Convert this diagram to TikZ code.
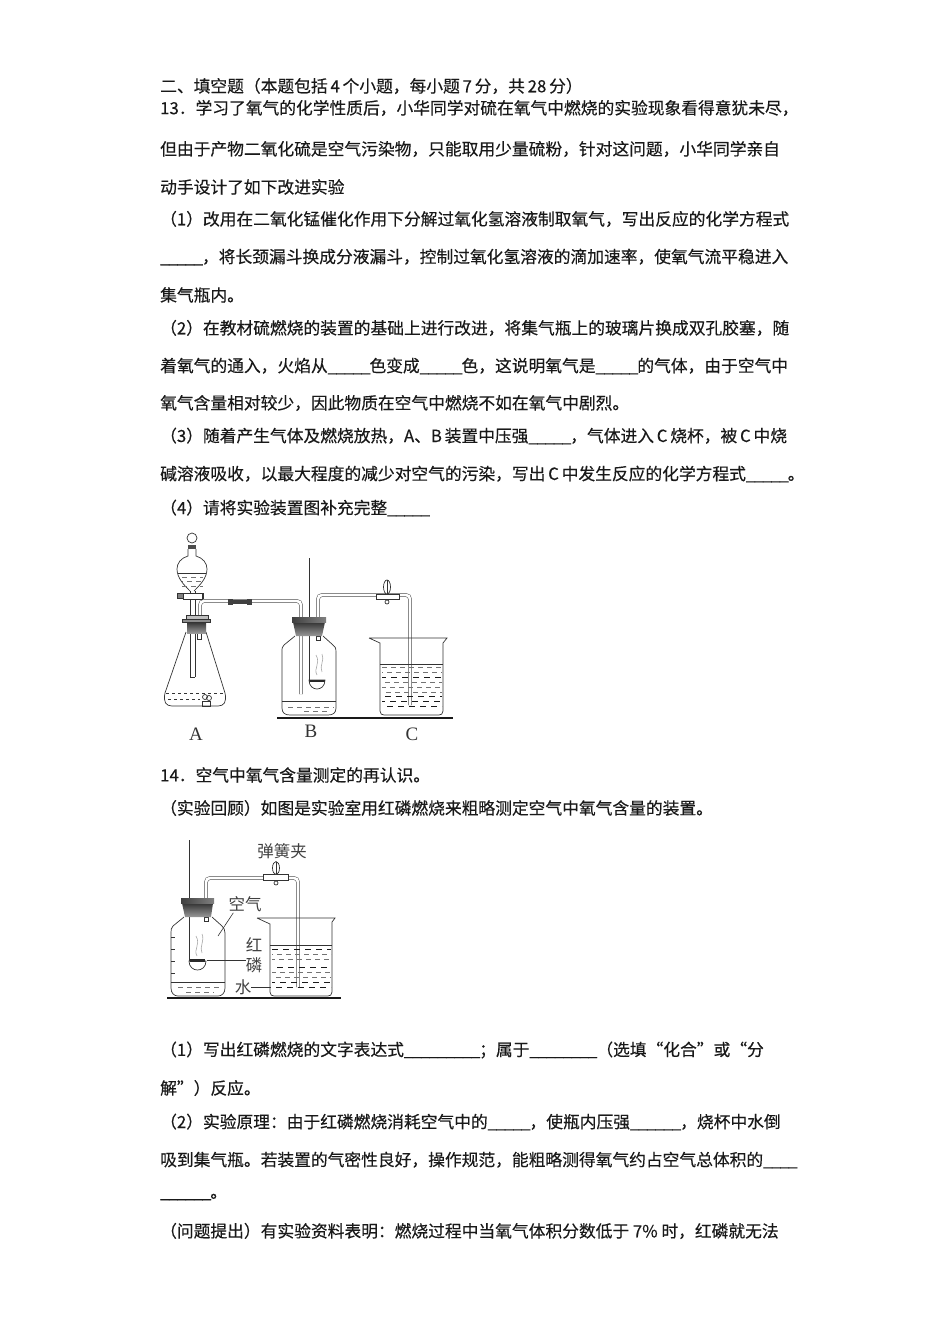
\documentclass[tikz,border=0pt]{standalone}
\usepackage{fontspec}
\newfontfamily\cjk{Noto Sans CJK SC}[FakeBold=0.35]
\newfontfamily\latinlabel{Liberation Serif}
\newcommand\us{\_\kern-0.06em\relax}
\tikzset{
  textline/.style={anchor=west, inner sep=0pt, font=\cjk\fontsize{16.75}{18}\selectfont, text=black!90},
  glass/.style={draw=black!80, line width=0.7pt},
  tube/.style={draw=black!70, line width=0.5pt, double=white, double distance=2.6pt, rounded corners=4pt},
  rubber/.style={fill=black!75, draw=black!75},
  level/.style={draw=black!80, line width=0.8pt},
  waterdash/.style={draw=black!55, line width=0.6pt, dash pattern=on 5pt off 4pt},
  waterdark/.style={draw=black!90, line width=0.9pt, dash pattern=on 6pt off 5pt},
  smoke/.style={draw=black!35, line width=0.6pt},
  labelfont/.style={font=\fontspec{Noto Sans CJK SC}\fontsize{16.5}{17}\selectfont, text=black!75, inner sep=0pt},
  letter/.style={font=\latinlabel\fontsize{19}{20}\selectfont, text=black!80, inner sep=0pt},
  pointer/.style={draw=black!80, line width=0.6pt},
  bench/.style={draw=black!90, line width=2.4pt},
  plugbody/.style={top color=black!80, bottom color=black!40}
}
\begin{document}
\begin{tikzpicture}[x=1pt,y=-1pt]
    \useasboundingbox (0,0) rectangle (950,1344);

    % Text lines above and below the pictures
    \foreach \y/\txt in {
        86/{二、填空题（本题包括\,4\,个小题，每小题\,7\,分，共\,28\,分）},
        108/{13．学习了氧气的化学性质后，小华同学对硫在氧气中燃烧的实验现象看得意犹未尽，},
        149/{但由于产物二氧化硫是空气污染物，只能取用少量硫粉，针对这问题，小华同学亲自},
        187/{动手设计了如下改进实验},
        219/{（1）改用在二氧化锰催化作用下分解过氧化氢溶液制取氧气，写出反应的化学方程式},
        257/{\us\us\us\us\us{}，将长颈漏斗换成分液漏斗，控制过氧化氢溶液的滴加速率，使氧气流平稳进入},
        295/{集气瓶内。},
        328/{（2）在教材硫燃烧的装置的基础上进行改进，将集气瓶上的玻璃片换成双孔胶塞，随},
        366/{着氧气的通入，火焰从\us\us\us\us\us{}色变成\us\us\us\us\us{}色，这说明氧气是\us\us\us\us\us{}的气体，由于空气中},
        403/{氧气含量相对较少，因此物质在空气中燃烧不如在氧气中剧烈。},
        436/{（3）随着产生气体及燃烧放热，A、B\,装置中压强\us\us\us\us\us{}，气体进入\,C\,烧杯，被\,C\,中烧},
        474/{碱溶液吸收，以最大程度的减少对空气的污染，写出\,C\,中发生反应的化学方程式\us\us\us\us\us{}。},
        508/{（4）请将实验装置图补充完整\us\us\us\us\us{}},
        775/{14．空气中氧气含量测定的再认识。},
        808/{（实验回顾）如图是实验室用红磷燃烧来粗略测定空气中氧气含量的装置。},
        1050/{（1）写出红磷燃烧的文字表达式\us\us\us\us\us\us\us\us\us{}；属于\us\us\us\us\us\us\us\us{}（选填“化合”或“分},
        1088/{解”）反应。},
        1122/{（2）实验原理：由于红磷燃烧消耗空气中的\us\us\us\us\us{}，使瓶内压强\us\us\us\us\us\us{}，烧杯中水倒},
        1160/{吸到集气瓶。若装置的气密性良好，操作规范，能粗略测得氧气约占空气总体积的\us\us\us\us{}},
        1197/{\us\us\us\us\us\us{}。},
        1231/{（问题提出）有实验资料表明：燃烧过程中当氧气体积分数低于 7\% 时，红磷就无法}
    } {
        \node[textline] (line\y) at (160,\y) {\txt};
    }

    % Flask A
    \draw[glass] (186,632) -- (165,693) .. controls (163,702) and (166,706) .. (172,706)
        -- (218,706) .. controls (224,706) and (227,702) .. (225,693) -- (206,632);
    \draw[level, dashed] (166,693) -- (224,693);
    \draw[level, dashed] (168,699) -- (200,699);
    \draw[glass] (202,701) rectangle (210,706);
    \draw[glass] (205,697) circle (2.5pt) (209,698) circle (2.5pt);

    % Funnel on flask A
    \draw[glass] (192,538) circle (5pt);
    \fill[black!70] (188,545) rectangle (196,549);
    \draw[glass] (188,549) -- (188,556) .. controls (181,558) and (177,563) .. (177,569)
        .. controls (177,578) and (184,585) .. (190,591);
    \draw[glass] (196,549) -- (196,556) .. controls (203,558) and (207,563) .. (207,569)
        .. controls (207,578) and (200,585) .. (194,591);
    \draw[level] (178,573) -- (206,573);
    \foreach \y/\ph in {577/0pt,581/4pt,586/0pt} {
        \draw[waterdash, dash phase=\ph] (182,\y) -- (203,\y);
    }
    \draw[glass] (190,591) -- (190,677) (195,591) -- (195,677);
    \draw[glass, line width=1pt] (190,677) -- (195,677);
    \draw[glass, fill=white] (183,593) rectangle (202,599);
    \draw[glass, fill=black!50] (177,593) rectangle (183,598);
    \fill[black!80] (202,593) rectangle (204,599);

    % Delivery tube A to B with rubber joint
    \draw[tube] (200,625) -- (200,601) -- (301,601) -- (301,694);
    \draw[rubber] (228,599) rectangle (232,604) (232,600) rectangle (247,603) (247,599) rectangle (251,604);

    % Stopper of flask A
    \draw[glass, fill=white] (197,633) rectangle (201,639);
    \shade[plugbody] (187,622) -- (206,622) -- (206,633) -- (187,633) -- cycle;
    \draw[glass, fill=black!45] (182,619) rectangle (210,622);
    \draw[glass, fill=black!25] (186,615) rectangle (208,619);

    % Bottle B
    \draw[glass] (295,636) -- (284,645) .. controls (282,647) and (282,648) .. (282,652)
        -- (282,708) .. controls (282,713) and (285,715) .. (290,715) -- (328,715)
        .. controls (333,715) and (336,713) .. (336,708) -- (336,652)
        .. controls (336,648) and (335,646) .. (333,645) -- (323,636);
    \draw[glass] (309,558) -- (309,680);
    \draw[tube] (318,625) -- (318,595) -- (410,595) -- (410,705);
    \draw[glass, fill=white] (316,636) rectangle (320,640);
    \shade[plugbody] (293,622) -- (325,622) -- (322,636) -- (296,636) -- cycle;
    \shade[left color=black!75, right color=black!50] (292,617) rectangle (326,622);
    \draw[level] (282,701) -- (336,701);
    \draw[waterdash] (288,707) -- (334,707);
    \draw[waterdash] (304,711) -- (328,711);

    % Spoon and smoke in B
    \fill[black!85] (309,680) rectangle (325,682);
    \draw[glass] (309,680) .. controls (309,692) and (325,692) .. (325,680) -- cycle;
    \draw[smoke] (317,675) .. controls (313,668) and (321,664) .. (316,655);
    \draw[smoke] (322,672) .. controls (319,666) and (325,660) .. (322,654);

    % Clamp on tube B to C
    \draw[glass, fill=white] (376,594) rectangle (399,599);
    \draw[glass, fill=white] (387,587) ellipse (3.5pt and 7pt);
    \draw[glass] (387,580) -- (387,594);
    \draw[glass, fill=white] (387,602) circle (2pt);

    % Beaker C
    \draw[glass] (369,638) -- (447,638) -- (443,643) -- (443,711) .. controls (443,714) and (441,715) .. (439,715)
        -- (384,715) .. controls (382,715) and (380,714) .. (380,711) -- (380,643) -- (369,638);
    \draw[level] (380,664) -- (443,664);
    \foreach \y/\kind/\ph in {667/waterdash/0pt,672/waterdash/4pt,677/waterdark/2pt,682/waterdash/6pt,687/waterdash/1pt,692/waterdash/5pt,696/waterdark/8pt,701/waterdark/3pt,706/waterdark/6pt} {
        \draw[\kind, dash phase=\ph] (382,\y) -- (442,\y);
    }
    \draw[bench] (277,718) -- (453,718);

    \node[letter] (labelA) at (196,734) {A};
    \node[letter] (labelB) at (311,731) {B};
    \node[letter] (labelC) at (412,734) {C};

    % Second apparatus
    \draw[glass] (184,917) -- (173,926) .. controls (171,928) and (171,930) .. (171,933)
        -- (171,988) .. controls (171,993) and (174,996) .. (178,996) -- (218,996)
        .. controls (222,996) and (225,993) .. (225,988) -- (225,933)
        .. controls (225,930) and (224,928) .. (222,926) -- (212,917);
    \foreach \y in {937,949,961,973} {
        \draw[glass] (171,\y) -- (175,\y);
    }
    \draw[glass] (189,840) -- (189,961);
    \draw[tube] (206,905) -- (206,878) -- (298,878) -- (298,987);
    \draw[glass, fill=white] (204,917) rectangle (208,921);
    \shade[plugbody] (182,903) -- (213,903) -- (211,917) -- (185,917) -- cycle;
    \shade[left color=black!75, right color=black!50] (181,898) rectangle (214,903);
    \draw[level] (171,982) -- (225,982);
    \draw[waterdash] (178,987) -- (222,987);
    \draw[waterdash] (186,992) -- (214,992);
    \fill[black!85] (190,959) rectangle (205,962);
    \draw[glass] (189,961) .. controls (189,973) and (206,973) .. (206,961) -- cycle;
    \draw[smoke] (197,956) .. controls (193,949) and (201,945) .. (196,936);
    \draw[smoke] (202,953) .. controls (199,947) and (205,941) .. (202,934);

    % Clamp on second tube
    \draw[glass, fill=white] (263,874) rectangle (288,880);
    \draw[glass, fill=white] (276,868) ellipse (3.5pt and 6.5pt);
    \draw[glass] (276,862) -- (276,874);
    \draw[glass, fill=white] (276,883) circle (2pt);

    % Second beaker
    \draw[glass] (257,918) -- (335,918) -- (332,922) -- (332,992) .. controls (332,995) and (330,996) .. (328,996)
        -- (274,996) .. controls (272,996) and (270,995) .. (270,992) -- (270,924) -- (257,918);
    \draw[level] (270,945) -- (332,945);
    \foreach \y/\kind/\ph in {949/waterdark/0pt,954/waterdash/4pt,959/waterdash/2pt,967/waterdark/6pt,972/waterdash/1pt,977/waterdash/5pt,982/waterdark/3pt,987/waterdark/7pt} {
        \draw[\kind, dash phase=\ph] (272,\y) -- (331,\y);
    }
    \draw[bench] (167,998) -- (341,998);

    % Picture labels with their pointers
    \node[labelfont] (labelSpring) at (282,851) {弹簧夹};
    \node[labelfont] (labelAir) at (245,904) {空气};
    \node[labelfont] (labelRed) at (254,945) {红};
    \node[labelfont] (labelPhos) at (254,965) {磷};
    \node[labelfont] (labelWater) at (243,987) {水};
    \coordinate (airEnd) at (218,936);
    \coordinate (spoonEnd) at (207,960);
    \coordinate (waterEnd) at (271,987);
    \draw[pointer] (labelAir.south west) ++(5,1) -- (airEnd);
    \draw[pointer] (labelPhos.west |- spoonEnd) -- (spoonEnd);
    \draw[pointer] (labelWater.east) -- (waterEnd);
\end{tikzpicture}
\end{document}
